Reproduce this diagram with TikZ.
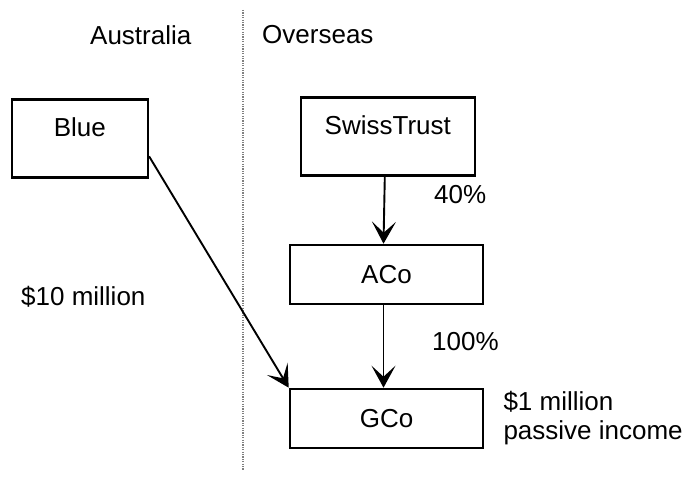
\documentclass[tikz,border=0pt]{standalone}
\usepackage{fontspec}
\setmainfont{Liberation Sans}
\usetikzlibrary{arrows.meta,positioning}

\begin{document}
\begin{tikzpicture}[x=1pt,y=-1pt,
  every node/.style={font=\fontsize{26}{29}\selectfont},
  box/.style={draw,line width=2.6pt,inner sep=0pt,minimum width=193pt,minimum height=59pt},
  topbox/.style={draw,line width=2.6pt,inner sep=0pt,text height=37pt,text depth=41pt},
  link/.style={line width=1.9pt,-{Stealth[length=22pt,width=24pt,inset=11pt]}},
  lbl/.style={inner sep=0pt,anchor=west}]
\useasboundingbox (0,0) rectangle (685,484);
% divider
\draw[gray,line width=1.2pt,dash pattern=on 1.2pt off 1.2pt] (243,10) -- (243,470);
\node[lbl] (aus) at (90,35) {Australia};
\node[lbl] (ovs) at (262,35) {Overseas};
% entities
\node[topbox,minimum width=136pt,anchor=north west] (blue) at (10.5,98) {Blue};
\node[topbox,minimum width=174pt,anchor=north west] (swiss) at (299.5,96) {SwissTrust};
\node[box] (aco) at (386.5,274.5) {ACo};
\node[box] (gco) at (386.5,418.5) {GCo};
% links
\draw[link] ([xshift=-3pt]swiss.south) -- ([xshift=-3pt]aco.north);
\draw[link] ([xshift=-3pt]aco.south) -- ([xshift=-3pt]gco.north);
\draw[link] ([yshift=-18pt]blue.east) -- (gco.north west);
% labels
\node[lbl] (pct40) at (434,195) {40\%};
\node[lbl] (pct100) at (432,342) {100\%};
\node[lbl] (amount) at (21,297) {\$10 million};
\node[lbl,align=left,right=19pt of gco] (income) {\$1 million\\passive income};
\end{tikzpicture}
\end{document}
